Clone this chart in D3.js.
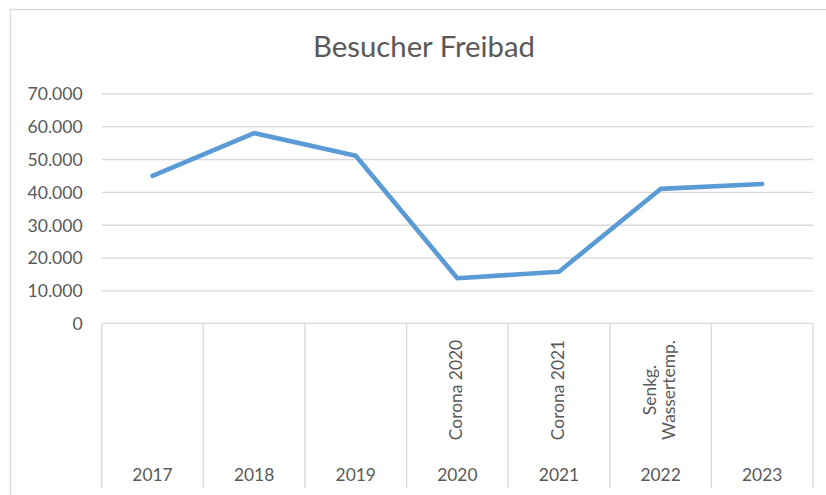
<!DOCTYPE html>
<html>
<head>
<meta charset="utf-8">
<script src="https://cdn.jsdelivr.net/npm/d3@7"></script>
<style>
  html, body { margin: 0; padding: 0; background: #ffffff; }
  svg text { font-family: Lato, "Open Sans", sans-serif; fill: #595959; }
</style>
</head>
<body>
<div id="chart"></div>
<script>
// chart data
var years = ["2017", "2018", "2019", "2020", "2021", "2022", "2023"];
var notes = [[], [], [], ["Corona 2020"], ["Corona 2021"], ["Senkg.", "Wassertemp."], []];
var visitors = [44900, 57900, 51000, 13700, 15700, 40900, 42400];
var yTicks = [0, 10000, 20000, 30000, 40000, 50000, 60000, 70000];
var chartTitle = "Besucher Freibad";

var svgWidth = 826;
var svgHeight = 495;

// plot area, in page pixels
var plot = { left: 101.7, right: 813, top: 93.3, bottom: 323.3 };
var axisBottomEnd = 488;

var svg = d3.select("#chart")
  .append("svg")
  .attr("width", svgWidth)
  .attr("height", svgHeight);

// outer chart border
svg.append("rect")
  .attr("x", 10.5)
  .attr("y", 9.5)
  .attr("width", 830)
  .attr("height", 500)
  .attr("fill", "none")
  .attr("stroke", "#d9d9d9")
  .attr("stroke-width", 1.3);

var xScale = d3.scaleBand()
  .domain(years)
  .range([plot.left, plot.right]);

var yScale = d3.scaleLinear()
  .domain([0, 70000])
  .range([plot.bottom, plot.top]);

// number format with German thousands separator
var deFormat = d3.formatLocale({ decimal: ",", thousands: ".", grouping: [3], currency: ["", " €"] }).format(",d");

// gridlines + y labels
var leftAxis = d3.axisLeft(yScale)
  .tickValues(yTicks)
  .tickSize(-(plot.right - plot.left))
  .tickPadding(19)
  .tickFormat(deFormat);

var yAxisGroup = svg.append("g")
  .attr("transform", `translate(${plot.left}, 0)`)
  .call(leftAxis);

yAxisGroup.select(".domain").remove();
yAxisGroup.selectAll(".tick line")
  .attr("stroke", "#d9d9d9")
  .attr("stroke-width", 1.3);
yAxisGroup.selectAll(".tick text")
  .attr("font-size", "17.6px")
  .attr("fill", "#595959")
  .attr("dy", "0.36em")
  .style("font-family", "Lato, 'Open Sans', sans-serif");
// the 0 line is the axis line, drawn below
yAxisGroup.selectAll(".tick").filter(d => d === 0).select("line").remove();

// category axis (two levels)
var axisG = svg.append("g");

axisG.append("line")
  .attr("x1", plot.left)
  .attr("x2", plot.right)
  .attr("y1", plot.bottom)
  .attr("y2", plot.bottom)
  .attr("stroke", "#d9d9d9")
  .attr("stroke-width", 1.3);

var bounds = years.map(d => xScale(d)).concat([plot.right]);
axisG.selectAll("line.sep")
  .data(bounds)
  .enter()
  .append("line")
  .attr("class", "sep")
  .attr("x1", d => d)
  .attr("x2", d => d)
  .attr("y1", plot.bottom)
  .attr("y2", axisBottomEnd)
  .attr("stroke", "#d9d9d9")
  .attr("stroke-width", 1.3);

var bottomAxis = d3.axisBottom(xScale)
  .tickSize(0)
  .tickPadding(0);

var xAxisGroup = svg.append("g")
  .attr("transform", "translate(0, 468)")
  .call(bottomAxis);
xAxisGroup.select(".domain").remove();
xAxisGroup.selectAll(".tick text")
  .attr("font-size", "17.4px")
  .attr("fill", "#595959")
  .attr("dy", "0.72em")
  .style("font-family", "Lato, 'Open Sans', sans-serif");

// rotated upper-level labels
var lineGap = 18.5;
notes.forEach(function(lines, i) {
  if (!lines.length) return;
  var cx = xScale(years[i]) + xScale.bandwidth() / 2;
  var t = svg.append("text")
    .attr("transform", `translate(${cx}, 390) rotate(-90)`)
    .attr("text-anchor", "middle")
    .attr("font-size", "17.4px");
  lines.forEach(function(s, j) {
    t.append("tspan")
      .attr("x", 0)
      .attr("y", 5 + (j - (lines.length - 1) / 2) * lineGap)
      .text(s);
  });
});

// the series line
var line = d3.line()
  .x((d, i) => xScale(years[i]) + xScale.bandwidth() / 2)
  .y(d => yScale(d));

svg.append("path")
  .datum(visitors)
  .attr("d", line)
  .attr("fill", "none")
  .attr("stroke", "#5b9bd5")
  .attr("stroke-width", 4.6)
  .attr("stroke-linejoin", "round")
  .attr("stroke-linecap", "round");

// title, sized to match the reference width
var title = svg.append("text")
  .attr("x", 424)
  .attr("y", 57.3)
  .attr("text-anchor", "middle")
  .attr("font-size", "26px")
  .text(chartTitle);
var tw = title.node().getComputedTextLength();
if (tw > 0) title.attr("font-size", (26 * 222 / tw).toFixed(2) + "px");
</script>
</body>
</html>
